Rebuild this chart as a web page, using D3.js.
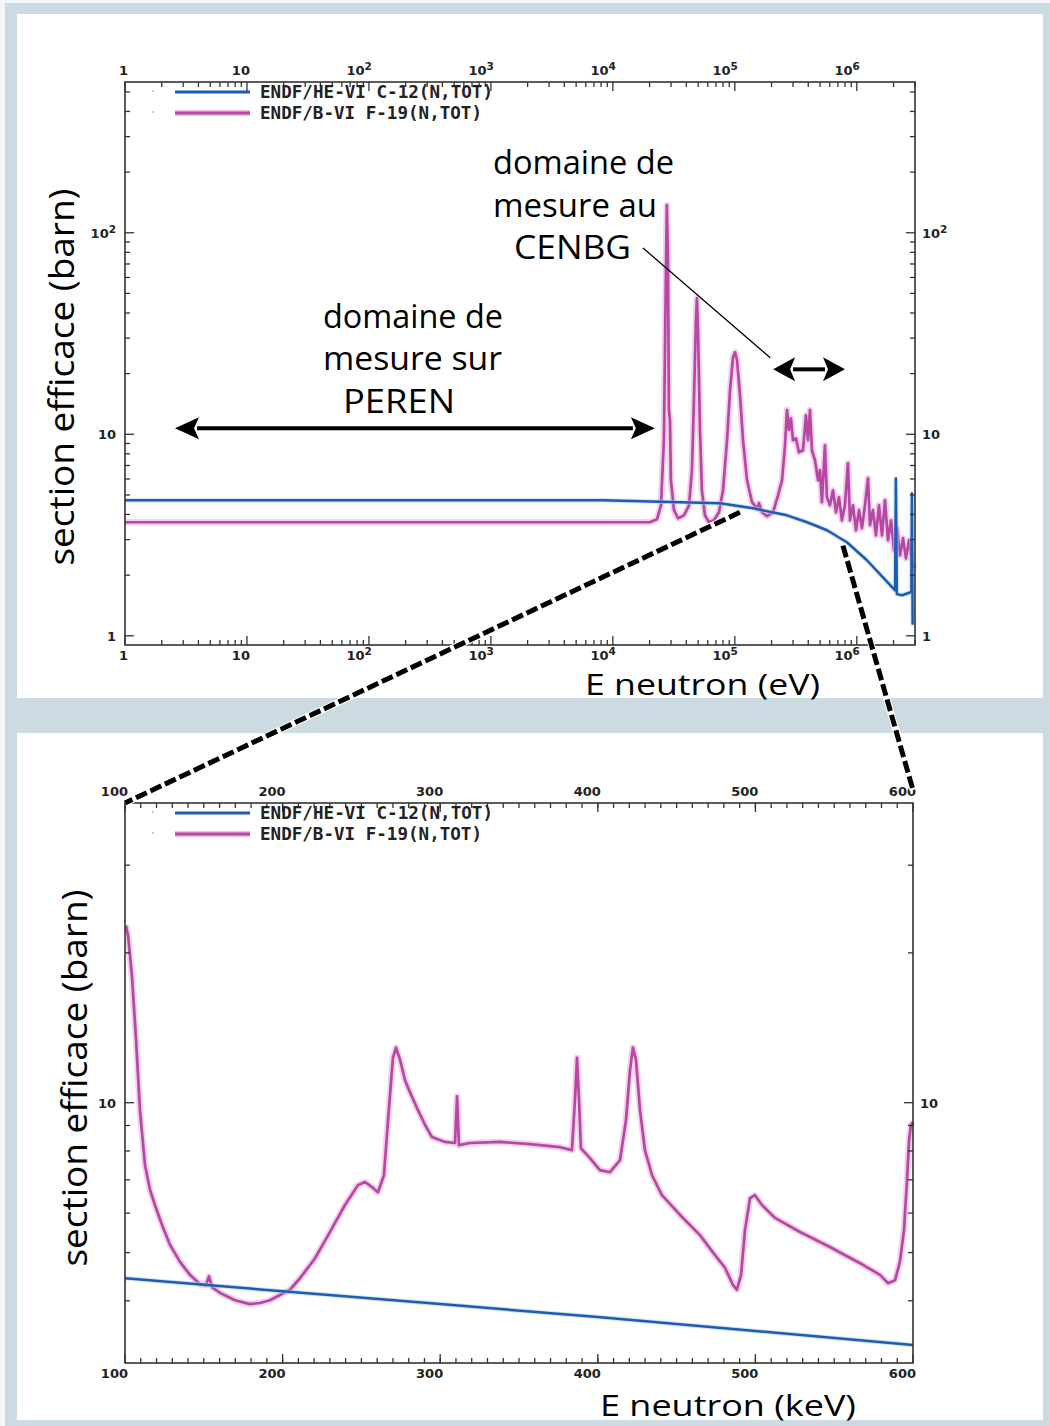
<!DOCTYPE html>
<html><head><meta charset="utf-8">
<script src="https://cdn.jsdelivr.net/npm/d3@7"></script>
<style>html,body{margin:0;padding:0;background:#fff;} svg{display:block}</style>
</head><body>
<svg id="c" width="1050" height="1426"></svg>
<script>
// ---------------- DATA ----------------
const seriesNames = ["ENDF/HE-VI C-12(N,TOT)", "ENDF/B-VI F-19(N,TOT)"];

// Wide view: neutron energy (eV) vs total cross section (barn)
const c12WideE = [1, 8300, 35500, 75500, 141000, 268000, 391000, 570000, 830000, 1.21e6, 1.64e6, 2.06e6, 2.09e6, 2.13e6, 2.35e6, 2.73e6, 2.80e6, 2.83e6, 2.87e6, 2.93e6];
const c12WideS = [4.70, 4.70, 4.60, 4.55, 4.29, 3.96, 3.66, 3.34, 2.91, 2.37, 1.95, 1.68, 6.05, 1.61, 1.59, 1.64, 1.66, 5.09, 1.15, 1.15];

const f19WideE = [1, 20100, 23000, 24800, 26200, 27300, 27700, 28300, 28800, 29400, 29900, 31700, 34200, 38300, 42100, 44500, 46200, 48000, 48900, 49900, 51800, 53700, 56900, 61300, 67400, 74100, 80000, 86300, 91300, 96600, 100300, 104200, 110300, 116700, 125900, 138300, 152000, 157800, 167000, 183500, 205600, 226000, 243700, 257800, 267700, 278000, 288600, 299600, 317000, 335500, 362000, 383000, 398000, 413000, 429000, 454000, 481000, 499000, 518000, 548000, 569000, 602000, 638000, 675000, 714000, 755000, 799000, 846000, 879000, 930000, 985000, 1.042e6, 1.103e6, 1.167e6, 1.235e6, 1.283e6, 1.357e6, 1.436e6, 1.520e6, 1.609e6, 1.702e6, 1.802e6, 1.906e6, 2.018e6, 2.135e6, 2.259e6, 2.392e6, 2.531e6, 2.679e6, 2.834e6, 2.941e6];
const f19WideS = [3.66, 3.66, 3.79, 4.44, 9.34, 73.0, 137, 73.0, 13.2, 11.7, 5.91, 4.20, 3.83, 3.96, 4.44, 6.63, 14.75, 36.8, 47.3, 32.8, 10.5, 5.27, 3.96, 3.66, 3.74, 4.10, 5.27, 9.34, 16.5, 24.1, 25.5, 23.3, 15.6, 9.34, 5.91, 4.60, 4.29, 4.55, 4.10, 3.92, 4.10, 4.98, 5.91, 8.82, 13.2, 10.5, 12.0, 9.34, 9.55, 8.14, 8.33, 12.4, 9.34, 13.2, 8.33, 7.43, 5.91, 6.63, 4.60, 8.82, 4.87, 4.44, 5.27, 4.10, 4.87, 3.74, 4.44, 7.18, 3.74, 4.44, 3.34, 4.20, 3.42, 4.44, 6.05, 3.54, 4.20, 3.15, 4.44, 3.15, 4.70, 2.98, 3.74, 2.66, 3.42, 2.51, 3.05, 2.42, 2.98, 2.37, 2.16];

// Zoomed view: neutron energy (keV) vs total cross section (barn)
const c12ZoomE = [100, 200, 300, 400, 500, 600];
const c12ZoomS = [4.44, 4.18, 3.94, 3.71, 3.48, 3.26];

const f19ZoomE = [100.6, 101.9, 104.4, 107.0, 109.5, 112.7, 115.9, 119.0, 123.5, 128.6, 134.9, 141.2, 147.6, 151.4, 153.3, 155.2, 160.3, 169.8, 179.3, 185.7, 192.0, 198.3, 204.7, 211.0, 220.6, 230.1, 239.6, 247.8, 252.3, 256.7, 260.5, 264.3, 266.9, 270.0, 272.0, 274.5, 277.7, 280.8, 285.9, 290.4, 294.8, 303.0, 309.4, 310.7, 311.9, 318.9, 337.9, 357.0, 376.0, 383.6, 385.5, 386.8, 388.1, 389.3, 395.0, 401.4, 407.7, 414.1, 417.9, 420.4, 422.3, 424.2, 426.8, 429.9, 434.4, 440.7, 452.2, 464.8, 474.4, 480.7, 485.8, 488.3, 490.9, 493.4, 496.6, 499.7, 504.2, 512.4, 528.3, 547.3, 566.4, 579.1, 584.1, 588.6, 591.7, 594.3, 596.2, 597.5, 598.7, 600.0];
const f19ZoomS = [22.7, 21.7, 18.0, 13.4, 9.66, 7.49, 6.68, 6.23, 5.68, 5.18, 4.79, 4.51, 4.32, 4.30, 4.48, 4.26, 4.15, 4.01, 3.94, 3.96, 4.01, 4.11, 4.21, 4.44, 4.87, 5.50, 6.23, 6.83, 6.93, 6.77, 6.61, 7.15, 9.23, 12.3, 12.9, 12.2, 11.1, 10.5, 9.66, 9.02, 8.53, 8.34, 8.30, 10.3, 8.22, 8.30, 8.34, 8.26, 8.14, 8.03, 10.1, 12.3, 10.1, 8.10, 7.74, 7.32, 7.25, 7.67, 9.23, 11.6, 12.9, 12.2, 9.66, 8.03, 7.15, 6.52, 5.95, 5.42, 4.94, 4.66, 4.30, 4.21, 4.51, 5.55, 6.43, 6.52, 6.23, 5.87, 5.50, 5.13, 4.76, 4.51, 4.34, 4.40, 4.79, 5.55, 6.99, 8.41, 9.02, 9.14];

// Tick labels
const wideXTicks = [1, 10, 100, 1e3, 1e4, 1e5, 1e6];
const wideXLabels = ["1", "10", "10^2", "10^3", "10^4", "10^5", "10^6"];
const wideYTicks = [1, 10, 100];
const wideYLabels = ["1", "10", "10^2"];
const zoomXTicks = [100, 200, 300, 400, 500, 600];
const zoomXLabels = ["100", "200", "300", "400", "500", "600"];
const zoomYTicks = [10];
const zoomYLabels = ["10"];

// Annotation texts
const cenbgLines = ["domaine de", "mesure au", "CENBG"];
const perenLines = ["domaine de", "mesure sur", "PEREN"];
const yTitle = "section efficace (barn)";
const xTitleWide = "E neutron (eV)";
const xTitleZoom = "E neutron (keV)";

// ---------------- DRAW ----------------
const svg = d3.select("#c");
const BLUE = "#1b5db4", PINK = "#b548a4", PINK_HALO = "#eebde0", AXIS = "#333";
const tickFont = "'DejaVu Sans', sans-serif";
const monoFont = "'DejaVu Sans Mono', monospace";
const handFont = "'Open Sans', 'Noto Sans', sans-serif";

svg.append("rect").attr("width", 1050).attr("height", 1426).attr("fill", "#ccdae2");
svg.append("rect").attr("x", 0).attr("y", 0).attr("width", 1050).attr("height", 3).attr("fill", "#f4f7f9");
svg.append("rect").attr("x", 0).attr("y", 0).attr("width", 5).attr("height", 1426).attr("fill", "#f4f7f9");
svg.append("rect").attr("x", 17).attr("y", 14).attr("width", 1026).attr("height", 684).attr("fill", "#fff");
svg.append("rect").attr("x", 17).attr("y", 733).attr("width", 1026).attr("height", 687).attr("fill", "#fff");

function tickLabel(g, x, y, str, anchor) {
  const t = g.append("text").attr("x", x).attr("y", y).attr("text-anchor", anchor)
    .attr("font-family", tickFont).attr("font-weight", "bold").attr("font-size", 13).attr("fill", "#222");
  const p = str.split("^");
  t.append("tspan").text(p[0]);
  if (p[1]) t.append("tspan").attr("dy", -5).attr("font-size", 10.5).text(p[1]);
}

function panel(cfg) {
  const g = svg.append("g");
  const {x, y, L, R, T, B} = cfg;
  const clip = "clip" + cfg.id;
  svg.append("clipPath").attr("id", clip).append("rect").attr("x", L).attr("y", T - 2).attr("width", R - L + 2).attr("height", B - T + 4);
  const line = d3.line().x(d => x(d[0])).y(d => y(d[1]));
  const gs = g.append("g").attr("clip-path", `url(#${clip})`);
  const pinkData = d3.zip(cfg.fE, cfg.fS), blueData = d3.zip(cfg.cE, cfg.cS);
  gs.append("path").datum(pinkData).attr("d", line).attr("fill", "none").attr("stroke", PINK_HALO).attr("stroke-width", 6.5).attr("stroke-linejoin", "round").attr("opacity", 0.7);
  gs.append("path").datum(pinkData).attr("d", line).attr("fill", "none").attr("stroke", PINK).attr("stroke-width", 2.7).attr("stroke-linejoin", "round");
  gs.append("path").datum(blueData).attr("d", line).attr("fill", "none").attr("stroke", "#b9cdec").attr("stroke-width", 4.5).attr("opacity", 0.6);
  gs.append("path").datum(blueData).attr("d", line).attr("fill", "none").attr("stroke", BLUE).attr("stroke-width", 2.5).attr("stroke-linejoin", "round");

  // frame
  g.append("rect").attr("x", L).attr("y", T).attr("width", R - L).attr("height", B - T)
    .attr("fill", "none").attr("stroke", AXIS).attr("stroke-width", 1.6);
  const tk = g.append("g").attr("stroke", AXIS).attr("stroke-width", 1.3);
  cfg.xMinor.forEach(v => { const px = x(v); tk.append("line").attr("x1", px).attr("x2", px).attr("y1", T).attr("y2", T + 5); tk.append("line").attr("x1", px).attr("x2", px).attr("y1", B).attr("y2", B - 5); });
  cfg.xMajor.forEach(v => { const px = x(v); tk.append("line").attr("x1", px).attr("x2", px).attr("y1", T).attr("y2", T + 9); tk.append("line").attr("x1", px).attr("x2", px).attr("y1", B).attr("y2", B - 9); });
  cfg.yMinor.forEach(v => { const py = y(v); tk.append("line").attr("y1", py).attr("y2", py).attr("x1", L).attr("x2", L + 5); tk.append("line").attr("y1", py).attr("y2", py).attr("x1", R).attr("x2", R - 5); });
  cfg.yMajor.forEach(v => { const py = y(v); tk.append("line").attr("y1", py).attr("y2", py).attr("x1", L).attr("x2", L + 9); tk.append("line").attr("y1", py).attr("y2", py).attr("x1", R).attr("x2", R - 9); });
  cfg.xMajor.forEach((v, i) => { tickLabel(g, x(v) + 3, T - 7, cfg.xLabels[i], "end"); tickLabel(g, x(v) + 3, B + 15, cfg.xLabels[i], "end"); });
  cfg.yMajor.forEach((v, i) => { tickLabel(g, L - 9, y(v) + 5, cfg.yLabels[i], "end"); tickLabel(g, R + 7, y(v) + 5, cfg.yLabels[i], "start"); });

  // legend
  const lg = g.append("g");
  [[BLUE, seriesNames[0], 0], [PINK, seriesNames[1], 1]].forEach(([col, name, i]) => {
    const ly = T + 10 + i * 21;
    if (i === 1) lg.append("line").attr("x1", L + 50).attr("x2", L + 125).attr("y1", ly).attr("y2", ly).attr("stroke", PINK_HALO).attr("stroke-width", 6);
    lg.append("line").attr("x1", L + 50).attr("x2", L + 125).attr("y1", ly).attr("y2", ly).attr("stroke", col).attr("stroke-width", 3);
    lg.append("circle").attr("cx", L + 28).attr("cy", ly - 1).attr("r", 1).attr("fill", "#7fd0f0");
    lg.append("text").attr("x", L + 135).attr("y", ly + 6).attr("font-family", monoFont).attr("font-weight", "bold")
      .attr("font-size", 17).attr("textLength", 233 - (i ? 11 : 0)).attr("lengthAdjust", "spacingAndGlyphs").attr("fill", "#222").text(name);
  });
  // titles
  g.append("text").attr("transform", `translate(${cfg.yTitleX},${(cfg.yTitleY)}) rotate(-90)`).attr("text-anchor", "middle")
    .attr("font-family", handFont).attr("font-size", 34).attr("textLength", 377).attr("lengthAdjust", "spacingAndGlyphs").attr("fill", "#000").text(yTitle);
  g.append("text").attr("x", cfg.xTitleX).attr("y", cfg.xTitleY).attr("font-family", handFont).attr("font-size", 30)
    .attr("textLength", cfg.xTitleLen).attr("lengthAdjust", "spacingAndGlyphs").attr("fill", "#000").text(cfg.xTitle);
  return g;
}

// Wide panel scales
const xW = d3.scaleLog().domain([1, 3e6]).range([125, 915]);
const yW = d3.scaleLog().domain([0.9, 560]).range([645, 82]);
const decMinor = [];
for (let d = 1; d <= 1e6; d *= 10) for (let k = 2; k <= 9; k++) if (d * k <= 3e6) decMinor.push(d * k);
const yWMinor = [];
for (let d = 1; d <= 100; d *= 10) for (let k = 2; k <= 9; k++) if (d * k <= 560) yWMinor.push(d * k);
panel({id: "w", x: xW, y: yW, L: 125, R: 915, T: 82, B: 645,
  cE: c12WideE, cS: c12WideS, fE: f19WideE, fS: f19WideS,
  xMajor: wideXTicks, xLabels: wideXLabels, xMinor: decMinor,
  yMajor: wideYTicks, yLabels: wideYLabels, yMinor: yWMinor,
  yTitleX: 74, yTitleY: 377, xTitle: xTitleWide, xTitleX: 585, xTitleY: 695, xTitleLen: 235});

// Zoom panel scales
const xZ = d3.scaleLinear().domain([100, 600]).range([125, 913]);
const yZ = d3.scaleLog().domain([3, 40]).range([1363, 803]);
const zXMinor = d3.range(110, 600, 10);
const zYMinor = [4, 5, 6, 7, 8, 9, 20, 30];
panel({id: "z", x: xZ, y: yZ, L: 125, R: 913, T: 803, B: 1363,
  cE: c12ZoomE, cS: c12ZoomS, fE: f19ZoomE, fS: f19ZoomS,
  xMajor: zoomXTicks, xLabels: zoomXLabels, xMinor: zXMinor,
  yMajor: zoomYTicks, yLabels: zoomYLabels, yMinor: zYMinor,
  yTitleX: 87, yTitleY: 1078, xTitle: xTitleZoom, xTitleX: 600, xTitleY: 1416, xTitleLen: 256});

// ---------------- ANNOTATIONS ----------------
const ann = svg.append("g");
const conn = [[[xW(1.1e5), yW(4.1)], [xZ(100), yZ(40)]], [[xW(7.7e5), yW(2.8)], [xZ(600), yZ(40) - 13]]];
conn.forEach(([a, b]) => {
  ann.append("line").attr("x1", a[0]).attr("y1", a[1]).attr("x2", b[0]).attr("y2", b[1]).attr("stroke", "#fff").attr("stroke-width", 7);
  ann.append("line").attr("x1", a[0]).attr("y1", a[1]).attr("x2", b[0]).attr("y2", b[1]).attr("stroke", "#000").attr("stroke-width", 5).attr("stroke-dasharray", "12,4");
});

function dblArrow(x1, x2, yy, head, half, w) {
  ann.append("line").attr("x1", x1 + head - 2).attr("x2", x2 - head + 2).attr("y1", yy).attr("y2", yy).attr("stroke", "#000").attr("stroke-width", w);
  ann.append("path").attr("d", `M${x1},${yy} L${x1 + head},${yy - half} L${x1 + head - 5},${yy} L${x1 + head},${yy + half} Z`).attr("fill", "#000");
  ann.append("path").attr("d", `M${x2},${yy} L${x2 - head},${yy - half} L${x2 - head + 5},${yy} L${x2 - head},${yy + half} Z`).attr("fill", "#000");
}
dblArrow(xW(2.57), xW(22100), yW(10.7), 24, 11, 4);
dblArrow(xW(2.06e5), xW(8.0e5), yW(21), 22, 12, 4);
ann.append("line").attr("x1", 643).attr("y1", 248).attr("x2", xW(1.95e5)).attr("y2", yW(24)).attr("stroke", "#000").attr("stroke-width", 1.3);

function block(lines, xs, ys, lens) {
  lines.forEach((s, i) => ann.append("text").attr("x", xs[i]).attr("y", ys[i]).attr("font-family", handFont).attr("font-size", 32)
    .attr("textLength", lens[i]).attr("lengthAdjust", "spacingAndGlyphs").attr("fill", "#000").text(s));
}
block(cenbgLines, [493, 493, 514], [174, 217, 259], [181, 164, 117]);
block(perenLines, [323, 323, 343], [328, 370, 413], [180, 179, 112]);
</script>
</body></html>
